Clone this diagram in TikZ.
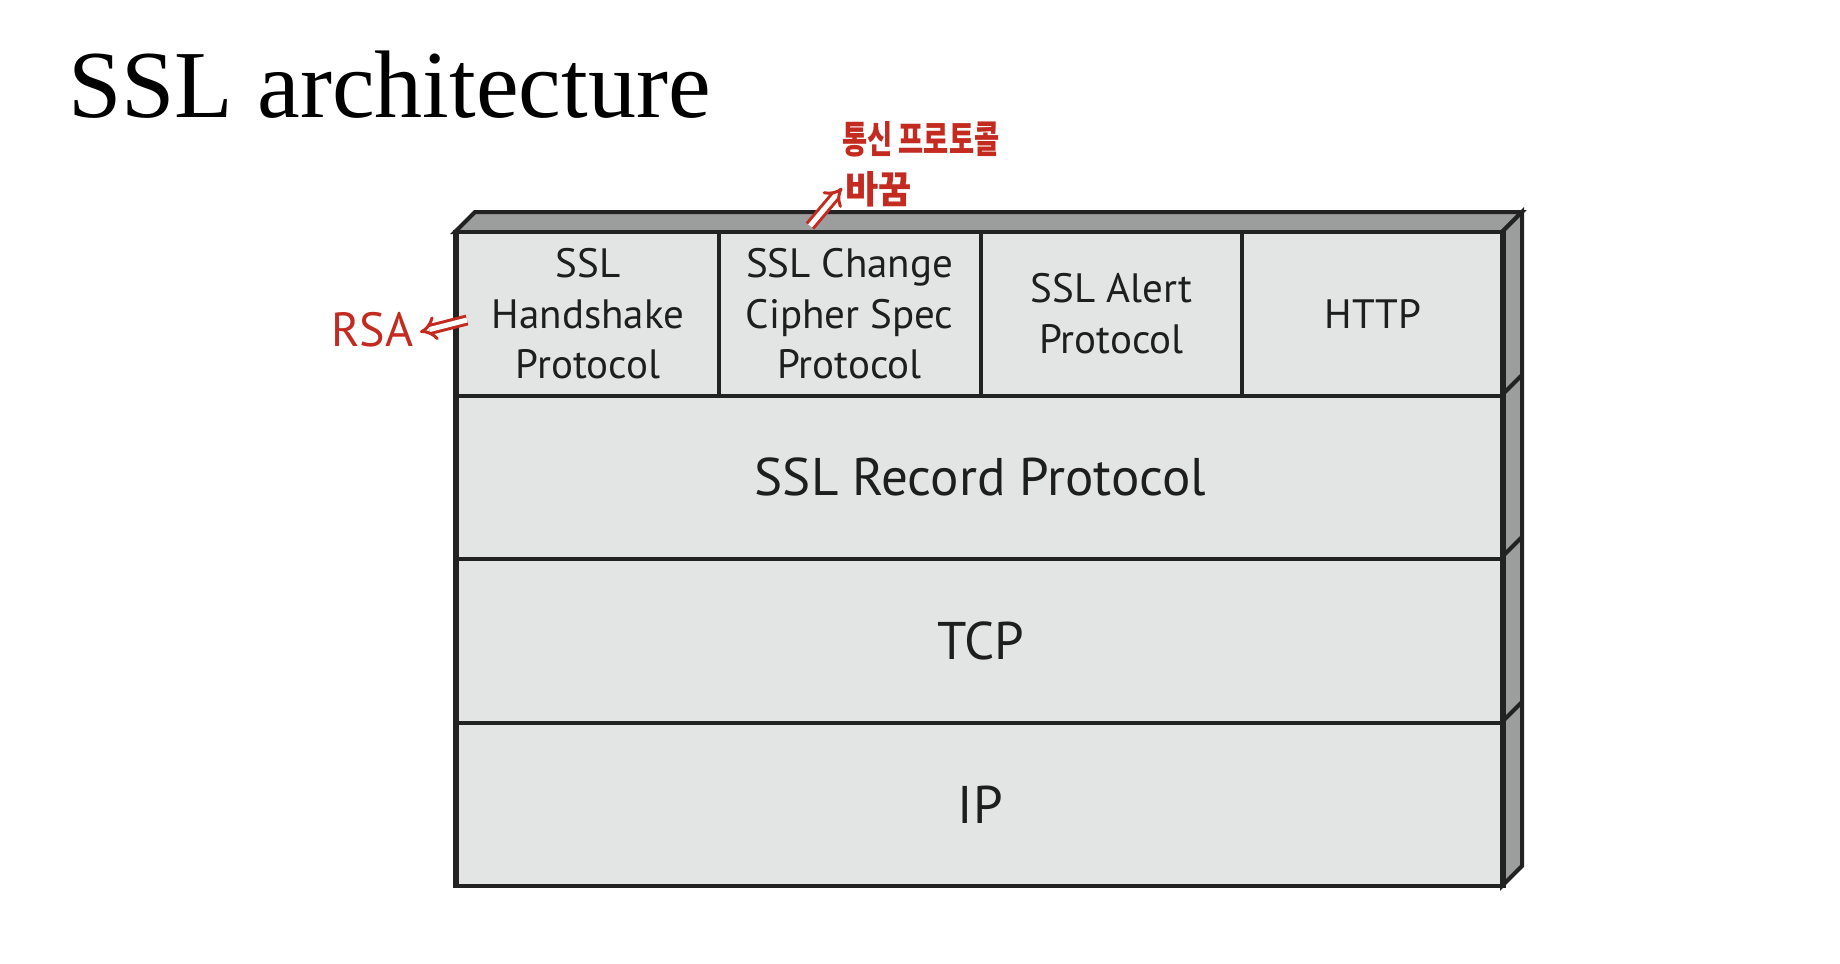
\documentclass[tikz,border=0pt]{standalone}
\usepackage{fontspec}
\setmainfont{Liberation Serif}
\newfontfamily\cellfont{PT Sans}
\newfontfamily\krfont{Noto Sans CJK KR}
\usetikzlibrary{arrows.meta}
\definecolor{front}{HTML}{E3E4E4}
\definecolor{shade}{HTML}{9C9D9D}
\definecolor{lc}{HTML}{222222}
\definecolor{txt}{HTML}{1E1E1E}
\definecolor{ink}{HTML}{C32A20}
\tikzset{
  cell/.style={draw=lc, fill=front, line width=4pt, anchor=north west, inner sep=0pt,
    align=center, text=txt, minimum height=163.5pt},
  small/.style={cell, minimum width=261.75pt, font=\cellfont\fontsize{41}{50.5}\selectfont},
  wide/.style={cell, minimum width=1047pt, font=\cellfont\fontsize{53}{60}\selectfont},
  face/.style={draw=lc, fill=shade, line width=4pt, line join=miter},
  note/.style={anchor=west, text=ink, inner sep=0pt, font=\krfont\bfseries\fontsize{38}{40}\selectfont},
  inkarrow/.style={ink, line width=3pt, double=white, double distance=5pt, -{Implies}},
}
\begin{document}
\begin{tikzpicture}[x=1pt,y=1pt]
\useasboundingbox (0,0) rectangle (1840,-964);
\node[anchor=base west, font=\fontsize{96}{110}\selectfont, inner sep=0pt] (title) at (68,-117) {SSL architecture};
% 3D faces
\draw[face] (455,-232) -- (475,-212) -- (1522,-212) -- (1502,-232) -- cycle;
\draw[face] (1502,-232) -- (1522,-212) -- (1522,-866) -- (1502,-886) -- cycle;
\foreach \y in {395,557,722} \draw[lc, line width=4pt] (1502,-\y) -- (1522,-\y+20);
% cells
\node[small] (hs) at (455,-230) {SSL\\Handshake\\Protocol};
\node[small] (ccs) at (716.75,-230) {SSL Change\\Cipher Spec\\Protocol};
\node[small] (alert) at (978.5,-230) {SSL Alert\\Protocol};
\node[small] (http) at (1240.25,-230) {HTTP};
\node[wide] (rec) at (455,-393.5) {SSL Record Protocol};
\node[wide] (tcp) at (455,-557) {TCP};
\node[wide] (ip) at (455,-720.5) {IP};
% redraw outer frame edges consistently
\draw[lc, line width=4pt] (455,-232) rectangle (1502,-886);
% annotations
\node[note] (k1) at (842,-139) {\scalebox{0.72}[1]{통신 프로토콜}};
\node[note] (k2) at (845,-189) {\scalebox{0.95}[1]{바꿈}};
\coordinate (a1s) at (810,-226);
\coordinate (a1e) at (842,-188);
\draw[inkarrow] (a1s) -- (a1e);
\node[anchor=west, text=ink, font=\cellfont\fontsize{48}{50}\selectfont, inner sep=0pt] (rsa) at (331,-330) {RSA};
\coordinate (a2s) at (467,-320);
\coordinate (a2e) at (420,-332);
\draw[inkarrow] (a2s) -- (a2e);
\end{tikzpicture}
\end{document}
